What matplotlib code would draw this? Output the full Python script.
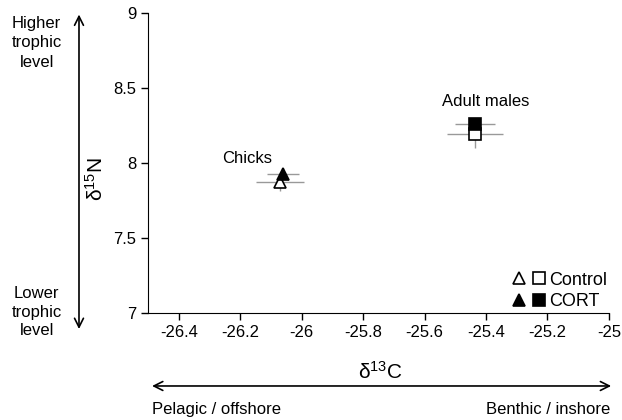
import matplotlib.pyplot as plt
from matplotlib.legend_handler import HandlerTuple

plt.rcParams['font.family'] = ['Liberation Sans', 'DejaVu Sans']

# group means and SE
groups = ["Chicks", "Adult males"]
ctrl_c13 = [-26.071, -25.436]
ctrl_n15 = [7.873, 8.193]
ctrl_c13_err = [0.078, 0.091]
ctrl_n15_err = [0.06, 0.093]
cort_c13 = [-26.060, -25.436]
cort_n15 = [7.925, 8.260]
cort_c13_err = [0.052, 0.064]
cort_n15_err = [0.04, 0.04]
markers = ["^", "s"]
msizes = [8.5, 8]

xticks = [-26.4, -26.2, -26, -25.8, -25.6, -25.4, -25.2, -25]
xticklabels = ["-26.4", "-26.2", "-26", "-25.8", "-25.6", "-25.4", "-25.2", "-25"]
yticks = [7, 7.5, 8, 8.5, 9]
yticklabels = ["7", "7.5", "8", "8.5", "9"]

fig = plt.figure(figsize=(6.22, 4.2), dpi=100)
ax = fig.add_axes([0.238, 0.255, 0.741, 0.714])

handles = {}
for i in range(len(groups)):
    ax.errorbar(ctrl_c13[i], ctrl_n15[i], xerr=ctrl_c13_err[i], yerr=ctrl_n15_err[i],
                fmt="none", ecolor="#999999", elinewidth=1, capsize=0, zorder=1)
    ax.errorbar(cort_c13[i], cort_n15[i], xerr=cort_c13_err[i], yerr=cort_n15_err[i],
                fmt="none", ecolor="#999999", elinewidth=1, capsize=0, zorder=1)
    h1, = ax.plot(ctrl_c13[i], ctrl_n15[i], linestyle="none", marker=markers[i],
                  ms=msizes[i], mfc="white", mec="black", mew=1.2, zorder=3)
    h2, = ax.plot(cort_c13[i], cort_n15[i], linestyle="none", marker=markers[i],
                  ms=msizes[i], mfc="black", mec="black", mew=1.2, zorder=4)
    handles[i] = (h1, h2)

ax.text(-26.179, 8.027, "Chicks", ha="center", va="center", fontsize=12)
ax.text(-25.40, 8.41, "Adult males", ha="center", va="center", fontsize=12)

leg = ax.legend([(handles[0][0], handles[1][0]), (handles[0][1], handles[1][1])],
                ["Control", "CORT"], handler_map={tuple: HandlerTuple(ndivide=None, pad=0.25)},
                loc="lower right", frameon=False, fontsize=13, handlelength=2.0,
                handletextpad=0.15, labelspacing=0.25, borderaxespad=0, borderpad=0.15,
                bbox_to_anchor=(1.003, 0.0))

ax.set_xlim(-26.5, -25)
ax.set_ylim(7, 9)
ax.set_xticks(xticks)
ax.set_xticklabels(xticklabels)
ax.set_yticks(yticks)
ax.set_yticklabels(yticklabels)
ax.tick_params(labelsize=12, length=5, width=1, direction="out")
ax.spines["top"].set_visible(False)
ax.spines["right"].set_visible(False)

# axis titles
fig.text(0.154, 0.575, r"$\mathregular{\delta^{15}N}$", rotation=90, ha="center", va="center", fontsize=15)
fig.text(0.611, 0.114, r"$\mathregular{\delta^{13}C}$", ha="center", va="center", fontsize=15)

# direction arrows
ax.annotate("", xy=(0.127, 0.21), xytext=(0.127, 0.972), xycoords="figure fraction",
            arrowprops=dict(arrowstyle="<->", lw=1.2, color="black", mutation_scale=16),
            annotation_clip=False)
ax.annotate("", xy=(0.240, 0.081), xytext=(0.987, 0.081), xycoords="figure fraction",
            arrowprops=dict(arrowstyle="<->", lw=1.2, color="black", mutation_scale=16),
            annotation_clip=False)

fig.text(0.059, 0.898, "Higher\ntrophic\nlevel", ha="center", va="center", fontsize=12, linespacing=1.35)
fig.text(0.059, 0.257, "Lower\ntrophic\nlevel", ha="center", va="center", fontsize=12, linespacing=1.3)
fig.text(0.244, 0.026, "Pelagic / offshore", ha="left", va="center", fontsize=12)
fig.text(0.981, 0.026, "Benthic / inshore", ha="right", va="center", fontsize=12)

fig.savefig("out.png", dpi=100)
